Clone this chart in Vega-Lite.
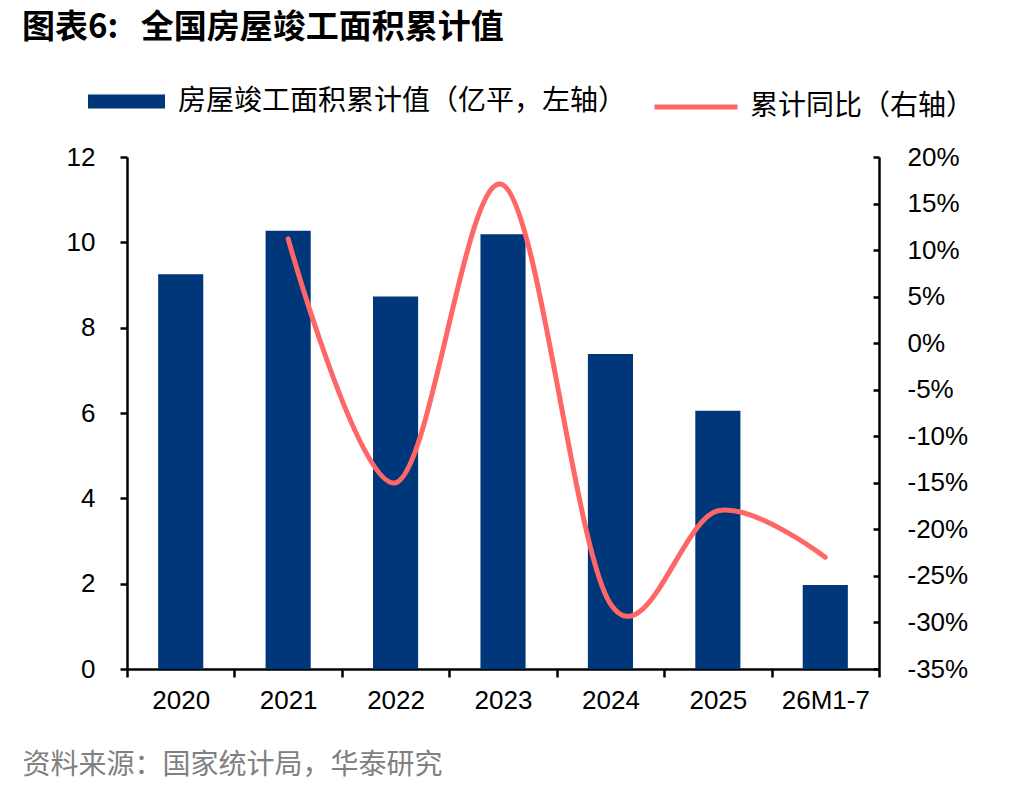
{
  "$schema": "https://vega.github.io/schema/vega-lite/v6.json",
  "autosize": {"type": "none"},
  "padding": {"left": 127, "top": 157, "right": 157, "bottom": 123},
  "width": 752,
  "height": 512,
  "background": "white",
  "title": {
    "text": "图表6:\u00a0\u00a0\u00a0全国房屋竣工面积累计值",
    "anchor": "start",
    "frame": "group",
    "dx": -105,
    "offset": 12,
    "font": "Noto Sans CJK SC",
    "fontSize": 33,
    "fontWeight": "bold",
    "color": "black"
  },
  "data": {
    "values": [
      {"period": "2020", "area": 9.25, "yoy": null},
      {"period": "2021", "area": 10.27, "yoy": 0.112},
      {"period": "2022", "area": 8.73, "yoy": -0.15},
      {"period": "2023", "area": 10.19, "yoy": 0.17},
      {"period": "2024", "area": 7.38, "yoy": -0.28},
      {"period": "2025", "area": 6.05, "yoy": -0.18},
      {"period": "26M1-7", "area": 1.97, "yoy": -0.23}
    ]
  },
  "encoding": {
    "x": {
      "field": "period",
      "type": "nominal",
      "sort": null,
      "scale": {"paddingInner": 0, "paddingOuter": 0},
      "axis": {
        "title": "资料来源：国家统计局，华泰研究",
        "titleX": -105,
        "titleY": 96,
        "titleAlign": "left",
        "titleBaseline": "middle",
        "titleColor": "#808080",
        "titleFont": "Noto Sans CJK SC",
        "titleFontSize": 28,
        "titleFontWeight": "normal",
        "labelAngle": 0,
        "tickBand": "extent",
        "tickSize": 8,
        "labelPadding": 10
      }
    }
  },
  "layer": [
    {
      "mark": {"type": "bar", "width": {"band": 0.42}},
      "encoding": {
        "y": {
          "field": "area",
          "type": "quantitative",
          "scale": {"domain": [0, 12], "nice": false},
          "axis": {
            "title": null,
            "values": [0, 2, 4, 6, 8, 10, 12],
            "tickSize": 7,
            "labelPadding": 25
          }
        },
        "fill": {
          "datum": "房屋竣工面积累计值（亿平，左轴）",
          "scale": {"range": ["#00377A"]},
          "legend": {
            "title": null,
            "orient": "none",
            "legendX": -45,
            "legendY": -100,
            "symbolType": "M-1,-0.18L1,-0.18L1,0.18L-1,0.18Z",
            "symbolSize": 5929,
            "symbolStrokeWidth": 0,
            "labelOffset": 13
          }
        }
      }
    },
    {
      "transform": [{"filter": "datum.yoy != null"}],
      "mark": {"type": "line", "interpolate": "cardinal", "tension": 0, "strokeWidth": 5, "strokeCap": "round"},
      "encoding": {
        "y": {
          "field": "yoy",
          "type": "quantitative",
          "scale": {"domain": [-0.35, 0.2], "nice": false, "zero": false},
          "axis": {
            "title": null,
            "orient": "right",
            "labelExpr": "replace(format(datum.value, '.0%'), '\u2212', '-')",
            "values": [-0.35, -0.3, -0.25, -0.2, -0.15, -0.1, -0.05, 0, 0.05, 0.1, 0.15, 0.2],
            "tickSize": -6,
            "labelPadding": 34,
            "labelAlign": "left"
          }
        },
        "stroke": {
          "datum": "累计同比（右轴）",
          "scale": {"range": ["#FF6666"]},
          "legend": {
            "title": null,
            "orient": "none",
            "legendX": 519,
            "legendY": -100,
            "symbolType": "stroke",
            "symbolSize": 6889,
            "symbolStrokeWidth": 5,
            "labelOffset": 10
          }
        }
      }
    }
  ],
  "resolve": {"scale": {"y": "independent"}},
  "config": {
    "view": {"stroke": null},
    "axis": {
      "grid": false,
      "domainColor": "black",
      "domainWidth": 2.5,
      "tickColor": "black",
      "tickWidth": 2.5,
      "labelColor": "black",
      "labelFont": "Liberation Sans",
      "labelFontSize": 26
    },
    "legend": {
      "padding": 6,
      "direction": "horizontal",
      "labelFont": "Noto Sans CJK SC",
      "labelFontSize": 28,
      "labelColor": "black",
      "labelLimit": 600
    }
  }
}
